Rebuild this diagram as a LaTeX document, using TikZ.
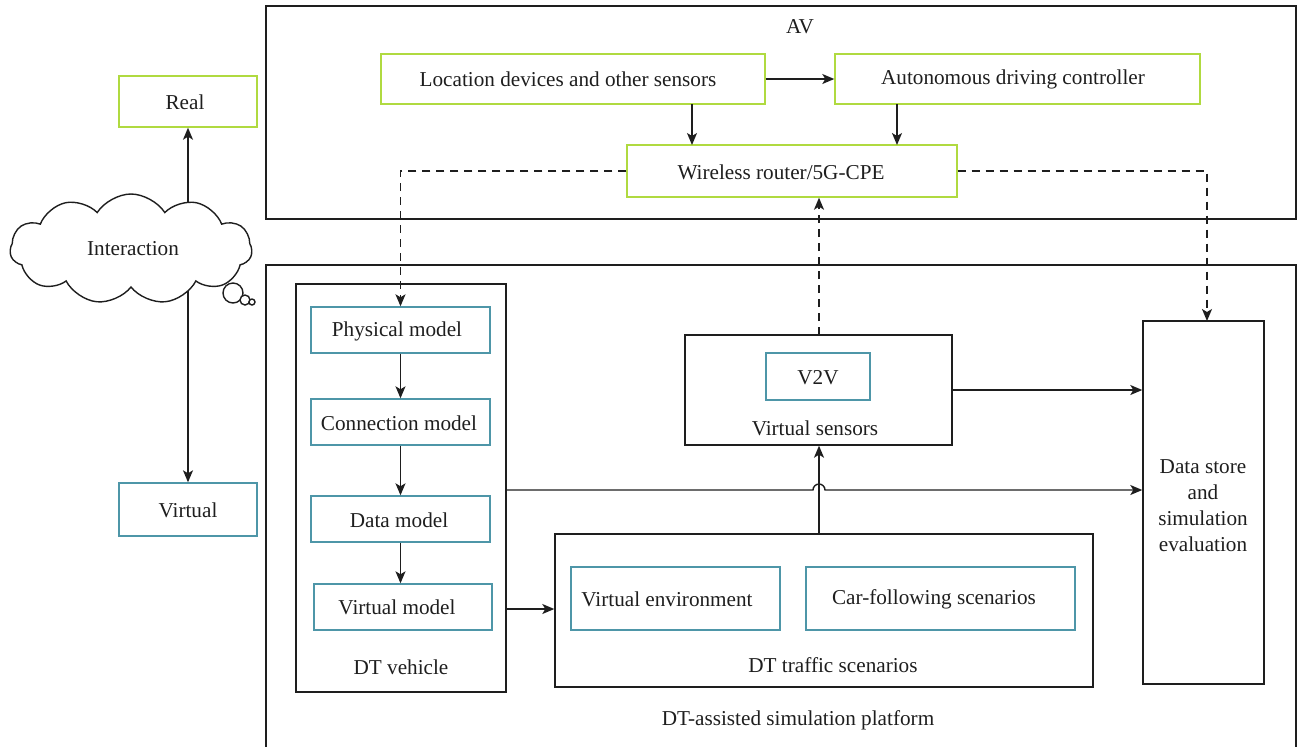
\documentclass[tikz,border=0pt]{standalone}
\usepackage{fontspec}
\setmainfont{Liberation Serif}
\usetikzlibrary{arrows.meta,fit,shapes.symbols,calc}
\definecolor{gr}{RGB}{176,218,64}
\definecolor{tl}{RGB}{78,150,168}
\definecolor{ln}{RGB}{30,30,30}
\begin{document}
\begin{tikzpicture}[x=0.5pt,y=-0.5pt, font=\fontsize{10.6}{13}\selectfont, text=ln,
  bx/.style={draw, line width=0.7pt, inner sep=0pt},
  gbox/.style={bx, draw=gr},
  tbox/.style={bx, draw=tl},
  kbox/.style={bx, draw=ln},
  arr/.style={draw=ln, line width=0.7pt, -{Stealth[length=6pt,width=5pt,inset=1.5pt]}},
  darr/.style={arr, dash pattern=on 4pt off 3pt},
  lbl/.style={inner sep=0pt}]
\useasboundingbox (0,0) rectangle (1297,746);

% outer frames
\node[kbox, fit={(266,6)(1296,219)}] (av) {};
\node[lbl] (avl) at (800,27) {AV};
\node[kbox, fit={(266,265)(1296,770)}] (plat) {};
\node[lbl] (platl) at (798,720) {DT-assisted simulation platform};

% AV contents
\node[gbox, fit={(381,54)(765,104)}] (loc) {};
\node[lbl] at (568,79) {Location devices and other sensors};
\node[gbox, fit={(835,54)(1200,104)}] (adc) {};
\node[lbl] at (1013,79) {Autonomous driving controller};
\node[gbox, fit={(627,145)(957,197)}] (wr) {};
\node[lbl] at (781,172) {Wireless router/5G-CPE};

% Real / Virtual / Interaction
\node[gbox, fit={(119,76)(257,127)}] (real) {};
\node[lbl] at (185,102) {Real};
\node[tbox, fit={(119,483)(257,536)}] (virt) {};
\node[lbl] at (188,510) {Virtual};
\draw[arr, {Stealth[length=6pt,width=5pt,inset=1.5pt]}-{Stealth[length=6pt,width=5pt,inset=1.5pt]}] (real) -- (virt);
\node[cloud, draw=ln, line width=0.7pt, fill=white, cloud puffs=11, cloud puff arc=115, aspect=2.2,
      minimum width=121pt, minimum height=55pt, inner sep=0pt] (cloud) at (131,249) {};
\node[lbl] at (133,249) {Interaction};
\draw[ln, line width=0.7pt, fill=white] (233,293) circle (5pt);
\draw[ln, line width=0.7pt, fill=white] (245,300) circle (2.5pt);
\draw[ln, line width=0.7pt, fill=white] (252,302) circle (1.5pt);

% DT vehicle
\node[kbox, fit={(296,284)(506,692)}] (dtv) {};
\node[lbl] at (401,667) {DT vehicle};
\node[tbox, fit={(311,307)(490,353)}] (phys) {};
\node[lbl] at (397,331) {Physical model};
\node[tbox, fit={(311,399)(490,445)}] (conn) {};
\node[lbl] at (399,423) {Connection model};
\node[tbox, fit={(311,496)(490,542)}] (data) {};
\node[lbl] at (399,520) {Data model};
\node[tbox, fit={(314,584)(492,630)}] (vmod) {};
\node[lbl] at (397,607) {Virtual model};

% Virtual sensors
\node[kbox, fit={(685,335)(952,445)}] (vs) {};
\node[lbl] at (815,428) {Virtual sensors};
\node[tbox, fit={(766,353)(870,400)}] (v2v) {};
\node[lbl] at (818,378) {V2V};

% DT traffic scenarios
\node[kbox, fit={(555,534)(1093,687)}] (dtt) {};
\node[lbl] at (833,665) {DT traffic scenarios};
\node[tbox, fit={(571,567)(780,630)}] (venv) {};
\node[lbl] at (667,599) {Virtual environment};
\node[tbox, fit={(806,567)(1075,630)}] (car) {};
\node[lbl] at (934,599) {Car-following scenarios};

% Data store
\node[kbox, fit={(1143,321)(1264,684)}] (ds) {};
\node[lbl, align=center] at (1203,506) {Data store\\and\\simulation\\evaluation};

% connectors
\draw[arr] (loc) -- (adc);
\draw[arr] (692,104) -- (692,145);
\draw[arr] (897,104) -- (897,145);
\draw[darr] (wr.west) -- (phys.north |- wr.west) -- (phys.north);
\draw[darr] (wr.east) -- (1207,171) -- (1207,321);
\coordinate (vsT) at (819,335);
\draw[darr] (vsT) -- (wr.south -| vsT);
\draw[arr] (vs.east |- 0,390) -- (ds.west |- 0,390);
\draw[arr] (dtt.north -| vsT) -- (vs.south -| vsT);
\draw[arr] (dtv.east |- 0,490) -- (813,490) arc[start angle=180,end angle=0,radius=3pt] -- (ds.west |- 0,490);
\draw[arr] (dtv.east |- 0,609) -- (dtt.west |- 0,609);
\draw[arr] (phys) -- (conn);
\draw[arr] (conn) -- (data);
\draw[arr] (data) -- (data.south |- vmod.north);
\end{tikzpicture}
\end{document}
